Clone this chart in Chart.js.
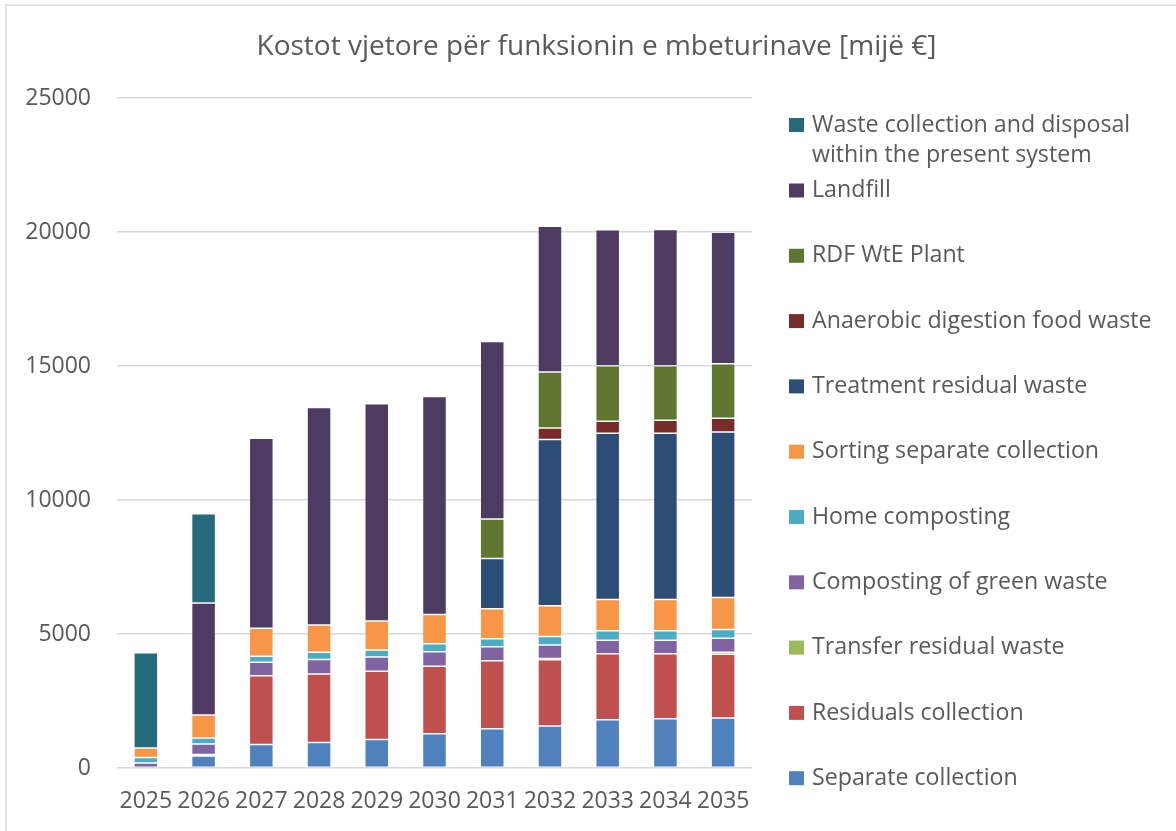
<!DOCTYPE html>
<html>
<head>
<meta charset="utf-8">
<script src="https://cdn.jsdelivr.net/npm/chart.js@4/dist/chart.umd.min.js"></script>
<style>
  html, body { margin: 0; padding: 0; background: #fff; }
  #wrap { width: 1176px; height: 831px; }
</style>
</head>
<body>
<div id="wrap"><canvas id="myChart" width="1176" height="831"></canvas></div>
<script>
var years = ["2025", "2026", "2027", "2028", "2029", "2030", "2031", "2032", "2033", "2034", "2035"];

// values in thousand euro
var separateCollection = [0, 450, 880, 950, 1060, 1280, 1460, 1570, 1800, 1835, 1870];
var residualsCollection = [0, 50, 2560, 2560, 2550, 2520, 2540, 2470, 2460, 2425, 2375];
var transferResidual = [0, 0, 0, 0, 0, 0, 0, 50, 0, 0, 70];
var compostingGreen = [190, 400, 505, 535, 535, 535, 520, 500, 510, 510, 525];
var homeComposting = [200, 220, 225, 270, 260, 300, 300, 320, 350, 350, 325];
var sortingSeparate = [360, 860, 1045, 1020, 1080, 1095, 1120, 1140, 1170, 1170, 1195];
var treatmentResidual = [0, 0, 0, 0, 0, 0, 1875, 6210, 6200, 6200, 6180];
var anaerobicDigestion = [0, 0, 0, 0, 0, 0, 0, 430, 450, 485, 510];
var rdfPlant = [0, 0, 0, 0, 0, 0, 1480, 2090, 2065, 2030, 2030];
var landfill = [0, 4180, 7085, 8115, 8105, 8130, 6615, 5430, 5075, 5085, 4910];
var presentSystem = [3555, 3330, 0, 0, 0, 0, 0, 0, 0, 0, 0];

var yTicks = [0, 5000, 10000, 15000, 20000, 25000];

var textColor = "#595959";
var gridColor = "#d9d9d9";
var fontFamily = "'Open Sans', sans-serif";

function makeSet(label, data, color) {
    return {
        label: label,
        data: data,
        backgroundColor: color,
        borderColor: "rgba(255,255,255,0.3)",
        borderWidth: 0.75,
        borderSkipped: false,
        barPercentage: 0.416,
        categoryPercentage: 1.0
    };
}

var datasets = [
    makeSet("Separate collection", separateCollection, "#4f81bd"),
    makeSet("Residuals collection", residualsCollection, "#c0504d"),
    makeSet("Transfer residual waste", transferResidual, "#9bbb59"),
    makeSet("Composting of green waste", compostingGreen, "#8064a2"),
    makeSet("Home composting", homeComposting, "#4bacc6"),
    makeSet("Sorting separate collection", sortingSeparate, "#f79646"),
    makeSet("Treatment residual waste", treatmentResidual, "#2c4d75"),
    makeSet("Anaerobic digestion food waste", anaerobicDigestion, "#772c2a"),
    makeSet("RDF WtE Plant", rdfPlant, "#5f7530"),
    makeSet("Landfill", landfill, "#4d3b62"),
    makeSet("Waste collection and disposal within the present system", presentSystem, "#276a7c")
];

// frame + legend drawn by hand, the built-in legend can't wrap its lines
var framePlugin = {
    id: "frame",
    beforeDraw: function (chart) {
        var ctx = chart.ctx;
        ctx.save();
        ctx.fillStyle = "#fff";
        ctx.fillRect(0, 0, chart.width, chart.height);
        ctx.strokeStyle = gridColor;
        ctx.lineWidth = 1.5;
        ctx.strokeRect(6, 5, chart.width + 10, chart.height + 10);
        ctx.restore();
    },
    afterDraw: function (chart) {
        var ctx = chart.ctx;
        var sets = chart.data.datasets;
        var boxX = 789, textX = 812, maxW = 345, lineH = 30;
        var y = 125;
        ctx.save();
        ctx.font = "23.2px " + fontFamily;
        ctx.textBaseline = "middle";
        ctx.textAlign = "left";
        for (var i = sets.length - 1; i >= 0; i--) {
            var words = sets[i].label.split(" ");
            var lines = [];
            var cur = "";
            for (var w = 0; w < words.length; w++) {
                var test = cur ? cur + " " + words[w] : words[w];
                if (ctx.measureText(test).width > maxW && cur) {
                    lines.push(cur);
                    cur = words[w];
                } else {
                    cur = test;
                }
            }
            lines.push(cur);
            ctx.fillStyle = sets[i].backgroundColor;
            ctx.fillRect(boxX, y - 7, 15, 14);
            ctx.fillStyle = textColor;
            for (var l = 0; l < lines.length; l++) {
                ctx.fillText(lines[l], textX, y + l * lineH);
            }
            if (i === sets.length - 1) {
                y = 190.5;
            } else {
                y += 65.3;
            }
        }
        ctx.restore();
    }
};

var ctx = document.getElementById("myChart");
var myBarChart = new Chart(ctx, {
    type: "bar",
    data: {
        labels: years,
        datasets: datasets
    },
    options: {
        responsive: false,
        animation: false,
        layout: {
            padding: { left: 17, right: 0, top: 0, bottom: 0 }
        },
        plugins: {
            legend: { display: false },
            tooltip: { enabled: false },
            title: {
                display: true,
                text: "Kostot vjetore për funksionin e mbeturinave [mijë €]",
                color: textColor,
                font: { family: fontFamily, size: 28, weight: "normal", lineHeight: 1.2 },
                padding: { top: 30.2, bottom: 34.2 }
            }
        },
        scales: {
            x: {
                stacked: true,
                grid: { display: false, drawTicks: false },
                border: { display: false },
                ticks: {
                    color: textColor,
                    font: { family: fontFamily, size: 23 },
                    padding: 20,
                    maxRotation: 0,
                    autoSkip: false
                },
                afterFit: function (scale) { scale.height = 63; }
            },
            y: {
                stacked: true,
                min: 0,
                max: 25000,
                grid: { color: gridColor, lineWidth: 1.5, drawTicks: false },
                border: { display: false },
                afterBuildTicks: function (scale) {
                    scale.ticks = yTicks.map(function (v) { return { value: v }; });
                },
                ticks: {
                    color: textColor,
                    font: { family: fontFamily, size: 23 },
                    padding: 26,
                    callback: function (value) { return String(value); }
                },
                afterFit: function (scale) { scale.width = 100; }
            },
            yr: {
                position: "right",
                display: true,
                grid: { display: false, drawTicks: false },
                border: { display: false },
                ticks: { display: false },
                afterFit: function (scale) { scale.width = 424; }
            }
        }
    },
    plugins: [framePlugin]
});
</script>
</body>
</html>
